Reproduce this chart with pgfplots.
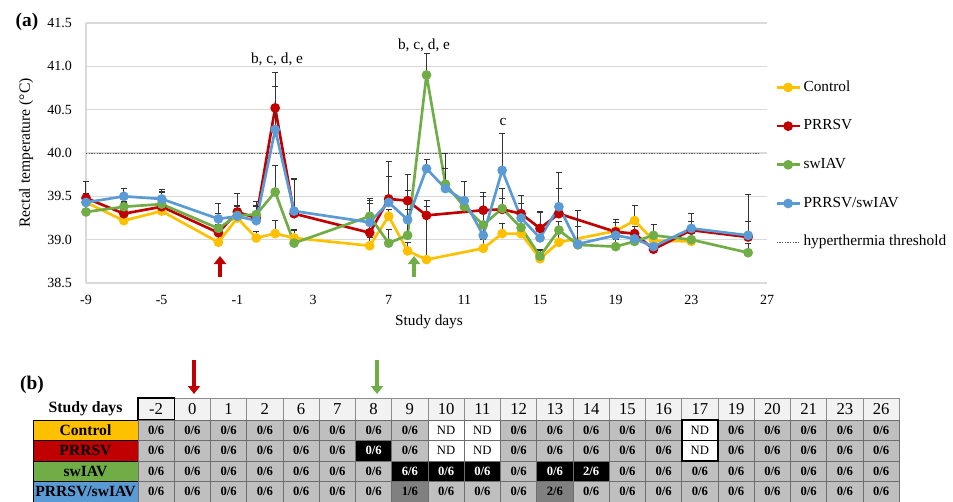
\documentclass[border=0pt]{standalone}
\usepackage{fontspec}
\setmainfont{Liberation Serif}
\usepackage{pgfplots}
\pgfplotsset{compat=1.18}
\usepackage{pgfplotstable}
\usetikzlibrary{arrows.meta}

\definecolor{ctrl}{HTML}{FFC000}
\definecolor{prrsv}{HTML}{C00000}
\definecolor{swiav}{HTML}{70AD47}
\definecolor{coinf}{HTML}{5B9BD5}
\definecolor{gridc}{HTML}{D9D9D9}
\definecolor{thr}{HTML}{595959}
\definecolor{cellline}{HTML}{6E6E6E}
\colorlet{fillg}{black!25}
\colorlet{fillk}{black}
\colorlet{filld}{black!50}
\colorlet{filln}{white}
\colorlet{txtg}{black}
\colorlet{txtk}{white}
\colorlet{txtd}{black}
\colorlet{txtn}{black}
\colorlet{hdrfill}{black!5}

\newcommand\fs[1]{\fontsize{#1pt}{#1pt}\selectfont}
\newcommand\labg[1]{\textbf{#1/6}}
\newcommand\labk[1]{\textbf{#1/6}}
\newcommand\labd[1]{\textbf{#1/6}}
\newcommand\labn[1]{ND}

% day, mean temperature, upper error
\pgfplotstableread{
x y e
-9 39.43 0.05
-7 39.22 0.06
-5 39.33 0.08
-2 38.97 0.10
-1 39.25 0.08
0 39.02 0.08
1 39.07 0.15
2 39.02 0.10
6 38.93 0.10
7 39.27 0.08
8 38.87 0.10
9 38.77 0.68
12 38.90 0.10
13 39.07 0.12
14 39.07 0.08
15 38.78 0.09
16 38.97 0.10
19 39.10 0.10
20 39.22 0.17
21 38.99 0.06
23 38.98 0.05
}\control

\pgfplotstableread{
x y e
-9 39.48 0.19
-7 39.30 0.14
-5 39.38 0.17
-2 39.08 0.10
-1 39.32 0.21
0 39.25 0.19
1 40.52 0.41
2 39.30 0.41
6 39.08 0.39
7 39.47 0.43
8 39.45 0.30
9 39.28 0.10
12 39.34 0.20
13 39.35 0.24
14 39.30 0.21
15 39.13 0.20
16 39.30 0.29
19 39.09 0.14
20 39.07 0.08
21 38.89 0.08
23 39.11 0.10
26 39.03 0.18
}\prrsvdata

\pgfplotstableread{
x y e
-9 39.32 0.08
-7 39.38 0.05
-5 39.41 0.15
-2 39.13 0.17
-1 39.28 0.10
0 39.29 0.10
1 39.55 0.31
2 38.96 0.15
6 39.27 0.15
7 38.96 0.16
8 39.05 0.52
9 40.90 0.25
10 39.64 0.36
11 39.38 0.29
12 39.17 0.33
13 39.36 0.12
14 39.14 0.10
15 38.81 0.08
16 39.11 0.10
17 38.94 0.21
19 38.92 0.08
20 38.98 0.06
21 39.05 0.13
23 39.00 0.08
26 38.85 0.11
}\swiavdata

\pgfplotstableread{
x y e
-9 39.43 0.10
-7 39.50 0.09
-5 39.47 0.11
-2 39.24 0.18
-1 39.27 0.12
0 39.22 0.16
1 40.27 0.50
2 39.33 0.37
6 39.20 0.25
7 39.43 0.30
8 39.23 0.12
9 39.82 0.10
10 39.59 0.23
11 39.45 0.22
12 39.05 0.15
13 39.80 0.43
14 39.25 0.17
15 39.02 0.29
16 39.38 0.39
17 38.95 0.39
19 39.05 0.18
20 39.01 0.08
21 38.92 0.10
23 39.13 0.17
26 39.05 0.47
}\coinfdata

\pgfplotsset{
  grp/.style={color=#1, line width=2pt, mark=*, mark size=2.6pt, mark options={solid},
    error bars/y dir=plus, error bars/y explicit,
    error bars/error mark=-,
    error bars/error bar style={black!80, line width=0.75pt},
    error bars/error mark options={rotate=90, black!80, line width=0.75pt, mark size=2.25pt}},
}

% table rows: cell type / first number
\def\rowA{g/0,g/0,g/0,g/0,g/0,g/0,g/0,g/0,n/0,n/0,g/0,g/0,g/0,g/0,g/0,n/0,g/0,g/0,g/0,g/0,g/0}
\def\rowB{g/0,g/0,g/0,g/0,g/0,g/0,k/0,g/0,n/0,n/0,g/0,g/0,g/0,g/0,g/0,n/0,g/0,g/0,g/0,g/0,g/0}
\def\rowC{g/0,g/0,g/0,g/0,g/0,g/0,g/0,k/6,k/0,k/0,g/0,k/0,k/2,g/0,g/0,g/0,g/0,g/0,g/0,g/0,g/0}
\def\rowD{g/0,g/0,g/0,g/0,g/0,g/0,g/0,d/1,g/0,g/0,g/0,d/2,g/0,g/0,g/0,g/0,g/0,g/0,g/0,g/0,g/0}

\newcommand\tablerow[4]{% row index, list, label, label colour
  \pgfmathsetmacro\yt{501-420-20.5*#1}
  \pgfmathsetmacro\yb{\yt-20.5}
  \pgfmathsetmacro\ym{\yt-10.25}
  \filldraw[fill=#4, draw=black, line width=0.6pt] (33,\yt) rectangle (138,\yb);
  \node[font=\fs{11.7}\bfseries] at (85.5,\ym) {#3};
  \foreach \ty/\nm [count=\c from 0] in #2 {
    \filldraw[fill=fill\ty, draw=cellline, line width=0.6pt]
      ({138+36.25*\c},\yt) rectangle ({138+36.25*(\c+1)},\yb);
    \node[text=txt\ty, font=\fs{9.5}] at ({138+36.25*(\c+0.5)},\ym) {\csname lab\ty\endcsname{\nm}};
  }
}

\begin{document}
\begin{tikzpicture}[x=0.75pt,y=0.75pt]
\useasboundingbox (0,0) rectangle (953,501);

\begin{axis}[
  at={(64.5pt,163.5pt)}, anchor=south west,
  scale only axis, width=510.75pt, height=195pt,
  xmin=-9, xmax=27, ymin=38.5, ymax=41.5,
  xtick={-9,-5,...,27}, ytick={38.5,39,...,41.5},
  axis lines*=left, axis line style={draw=gridc, line width=1pt, -},
  ymajorgrids, grid style={draw=gridc, line width=1pt},
  tick style={draw=none}, major tick length=0pt,
  tick label style={font=\fs{10.5}},
  /pgf/number format/assume math mode=true,
  y tick label style={/pgf/number format/.cd, fixed, fixed zerofill, precision=1, /tikz/.cd, xshift=-7pt},
  x tick label style={yshift=-6pt},
  clip=false,
  legend cell align=left,
  legend style={at={(1.012,0.78)}, anchor=north west, draw=none, fill=none,
    inner sep=0pt, row sep=18.5pt, font=\fs{11.5},
    nodes={inner sep=0pt, text height=8pt, text depth=2.5pt},
    /tikz/every odd column/.append style={column sep=2pt}},
]
\addplot[forget plot, color=thr, line width=0.75pt, dash pattern=on 1pt off 1pt]
  coordinates {(-9,40) (26.6,40)};
\addplot[grp=ctrl] table[x=x, y=y, y error=e]{\control};
\addlegendentry{Control}
\addplot[grp=prrsv] table[x=x, y=y, y error=e]{\prrsvdata};
\addlegendentry{PRRSV}
\addplot[grp=swiav] table[x=x, y=y, y error=e]{\swiavdata};
\addlegendentry{swIAV}
\addplot[grp=coinf] table[x=x, y=y, y error=e]{\coinfdata};
\addlegendentry{PRRSV/swIAV}
\addlegendimage{color=thr, line width=0.75pt, dash pattern=on 1pt off 1pt}
\addlegendentry{hyperthermia threshold}
\end{axis}

% panel (a) texts
\node[font=\fs{14.5}\bfseries] at (27,{501-22}) {(a)};
\node[rotate=90, font=\fs{11.7}] at (26,{501-153}) {Rectal temperature (°C)};
\node[font=\fs{11.5}] at (429,{501-322}) {Study days};
\node[font=\fs{11.5}] at (277,{501-59}) {b, c, d, e};
\node[font=\fs{11.5}] at (424,{501-45}) {b, c, d, e};
\node[font=\fs{11.5}] at (503,{501-122}) {c};
\draw[prrsv, line width=2.4pt, -{Triangle[width=9pt,length=6pt]}] (220,{501-277}) -- (220,{501-256});
\draw[swiav, line width=2.4pt, -{Triangle[width=9pt,length=6pt]}] (414,{501-277}) -- (414,{501-256});

% panel (b)
\node[font=\fs{14.5}\bfseries] at (32,{501-385}) {(b)};
\draw[prrsv, line width=2.4pt, -{Triangle[width=9pt,length=6pt]}] (194,{501-360}) -- (194,{501-394});
\draw[swiav, line width=2.4pt, -{Triangle[width=9pt,length=6pt]}] (377,{501-360}) -- (377,{501-394});

\node[font=\fs{11.8}\bfseries] at (85.5,{501-409}) {Study days};
\foreach \d [count=\c from 0] in {-2,0,1,2,6,7,8,9,10,11,12,13,14,15,16,17,19,20,21,23,26} {
  \filldraw[fill=hdrfill, draw=black!45, line width=0.6pt]
    ({138+36.25*\c},{501-398}) rectangle ({138+36.25*(\c+1)},{501-420});
  \node[font=\fs{12.5}] at ({138+36.25*(\c+0.5)},{501-409}) {\d};
}
\draw[black, line width=1.1pt] (138,{501-398}) rectangle (174.25,{501-420});

\tablerow{0}{\rowA}{Control}{ctrl}
\tablerow{1}{\rowB}{PRRSV}{prrsv}
\tablerow{2}{\rowC}{swIAV}{swiav}
\tablerow{3}{\rowD}{PRRSV/swIAV}{coinf}

\draw[black, line width=1.2pt] ({138+36.25*15},{501-420}) rectangle ({138+36.25*16},{501-440.5});
\draw[black, line width=1.2pt] ({138+36.25*15},{501-440.5}) rectangle ({138+36.25*16},{501-461});
\end{tikzpicture}
\end{document}
